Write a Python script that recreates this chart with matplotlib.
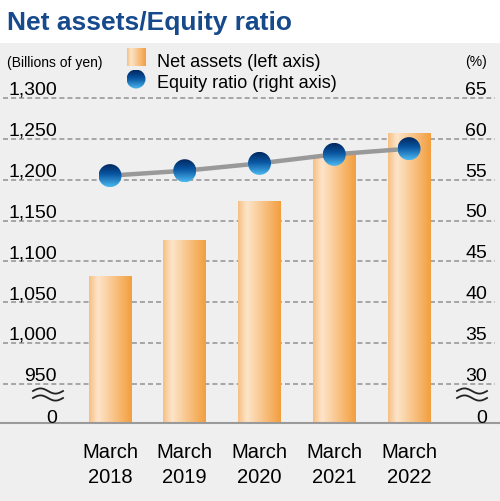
import numpy as np
import matplotlib
matplotlib.use("Agg")
import matplotlib.pyplot as plt
from matplotlib.colors import LinearSegmentedColormap
from matplotlib.patches import Circle, Rectangle
from matplotlib.transforms import ScaledTranslation, blended_transform_factory, offset_copy

# data
years = ["March\n2018", "March\n2019", "March\n2020", "March\n2021", "March\n2022"]
net_assets = [1082, 1126, 1174, 1230, 1257]          # billions of yen, left axis
equity_ratio = [55.5, 56.1, 57.0, 58.1, 58.8]        # %, right axis
left_ticks = [950, 1000, 1050, 1100, 1150, 1200, 1250, 1300]
right_ticks = [30, 35, 40, 45, 50, 55, 60, 65]

plt.rcParams["font.family"] = ["Liberation Sans", "DejaVu Sans"]
plt.rcParams["lines.scale_dashes"] = False

W, H = 500, 502
fig = plt.figure(figsize=(W / 100, H / 100), dpi=100)
fig.patch.set_facecolor("white")


def fx(x):
    return x / W


def fy(y):
    return 1 - y / H


# gray panel behind the chart
fig.patches.append(Rectangle((0, 0), 1, fy(44), transform=fig.transFigure,
                             facecolor="#efefef", edgecolor="none", zorder=-10))

ax = fig.add_axes([0, fy(424), 1, (424 - 44) / H])
ax.set_facecolor("none")
ax2 = ax.twinx()

ylo, yhi = 902.3, 1367.3
xlo, xhi = -1.4716, 5.217
x = np.arange(len(years))

bar_cmap = LinearSegmentedColormap.from_list(
    "bar", [(0, "#f7bf84"), (0.2, "#fde5ca"), (1, "#f39f3f")])
dot_cmap = LinearSegmentedColormap.from_list(
    "dot", [(0, "#00275f"), (0.45, "#0a57a3"), (1, "#4cb8ef")])
hgrad = np.linspace(0, 1, 64).reshape(1, -1)
vgrad = np.linspace(0, 1, 64).reshape(-1, 1)

# gridlines
for v in left_ticks:
    ax.axhline(v, xmin=0.005, xmax=0.99, color="#a0a0a0", lw=1.3,
               linestyle=(0, (3.6, 2.2)), zorder=1)

# bars with horizontal gradient
bars = ax.bar(x, net_assets, width=0.575, color="none", edgecolor="none", zorder=3)
for b in bars:
    x0 = b.get_x()
    im = ax.imshow(hgrad, cmap=bar_cmap, aspect="auto", interpolation="bicubic",
                   extent=(x0, x0 + b.get_width(), ylo, b.get_height()), zorder=3)
    im.set_clip_path(b)

# equity ratio line and gradient dots
ax2.plot(x, equity_ratio, color="#999999", lw=3.2, zorder=4, solid_capstyle="butt")


def grad_dot(axis, xv, yv, r, base_trans):
    trans = fig.dpi_scale_trans + ScaledTranslation(xv, yv, base_trans)
    circ = Circle((0, 0), r, transform=trans)
    im = axis.imshow(vgrad, cmap=dot_cmap, aspect="auto", interpolation="bicubic",
                     extent=(-r, r, -r, r), transform=trans, zorder=5, clip_on=True)
    im.set_clip_path(circ)


for xi, ri in zip(x, equity_ratio):
    grad_dot(ax2, xi, ri, 0.115, ax2.transData)

ax.set_xlim(xlo, xhi)
ax.set_ylim(ylo, yhi)
ax2.set_xlim(xlo, xhi)
ax2.set_ylim(ylo / 10 - 65, yhi / 10 - 65)

for a in (ax, ax2):
    for s in a.spines.values():
        s.set_visible(False)
    a.set_yticks([])
ax.set_xticks(x, years, fontsize=14.5, linespacing=1.4)
ax.tick_params(axis="x", length=0, pad=14)
ax.axhline(ylo, color="#9a9a9a", lw=1.5, zorder=6, clip_on=False)

# y tick labels sit above the gridlines
lt = offset_copy(blended_transform_factory(ax.transAxes, ax.transData), fig=fig, y=3, units="points")
for v in left_ticks:
    ax.text(fx(57), v, f"{v:,}", ha="right", va="baseline", fontsize=14, transform=lt)
rt = offset_copy(blended_transform_factory(ax2.transAxes, ax2.transData), fig=fig, y=3, units="points")
for v in right_ticks:
    ax2.text(fx(487), v, f"{v}", ha="right", va="baseline", fontsize=14, transform=rt)
fig.text(fx(57), fy(423), "0", ha="right", va="baseline", fontsize=14)
fig.text(fx(487), fy(423), "0", ha="right", va="baseline", fontsize=14)

# axis break marks
t = np.linspace(0, 1, 50)
for x0 in (33, 457):
    for y0 in (392, 399):
        fig.add_artist(plt.Line2D(fx(x0 + 30 * t), fy(y0 - 2.6 * np.sin(2 * np.pi * t)),
                                  color="#222222", lw=1.3, transform=fig.transFigure))

# title and units
fig.text(fx(7), fy(30), "Net assets/Equity ratio", fontsize=19, weight="bold",
         color="#174a8c", va="baseline")
fig.text(fx(7), fy(67), "(Billions of yen)", fontsize=10, va="baseline")
fig.text(fx(487), fy(66), "(%)", fontsize=10, ha="right", va="baseline")

# legend
im = ax.imshow(hgrad, cmap=bar_cmap, aspect="auto", interpolation="bicubic",
               extent=(fx(127), fx(146), fy(67), fy(49)), transform=fig.transFigure,
               clip_on=False, zorder=5)
tr = fig.dpi_scale_trans + ScaledTranslation(fx(136), fy(80), fig.transFigure)
circ = Circle((0, 0), 0.095, transform=tr)
im = ax.imshow(vgrad, cmap=dot_cmap, aspect="auto", interpolation="bicubic",
               extent=(-0.095, 0.095, -0.095, 0.095), transform=tr, clip_on=True, zorder=5)
im.set_clip_path(circ)
fig.text(fx(157), fy(67), "Net assets (left axis)", fontsize=13, va="baseline")
fig.text(fx(157), fy(88), "Equity ratio (right axis)", fontsize=13, va="baseline")

ax.set_xlim(xlo, xhi)
ax.set_ylim(ylo, yhi)
ax2.set_ylim(ylo / 10 - 65, yhi / 10 - 65)

fig.savefig("out.png", dpi=100)
